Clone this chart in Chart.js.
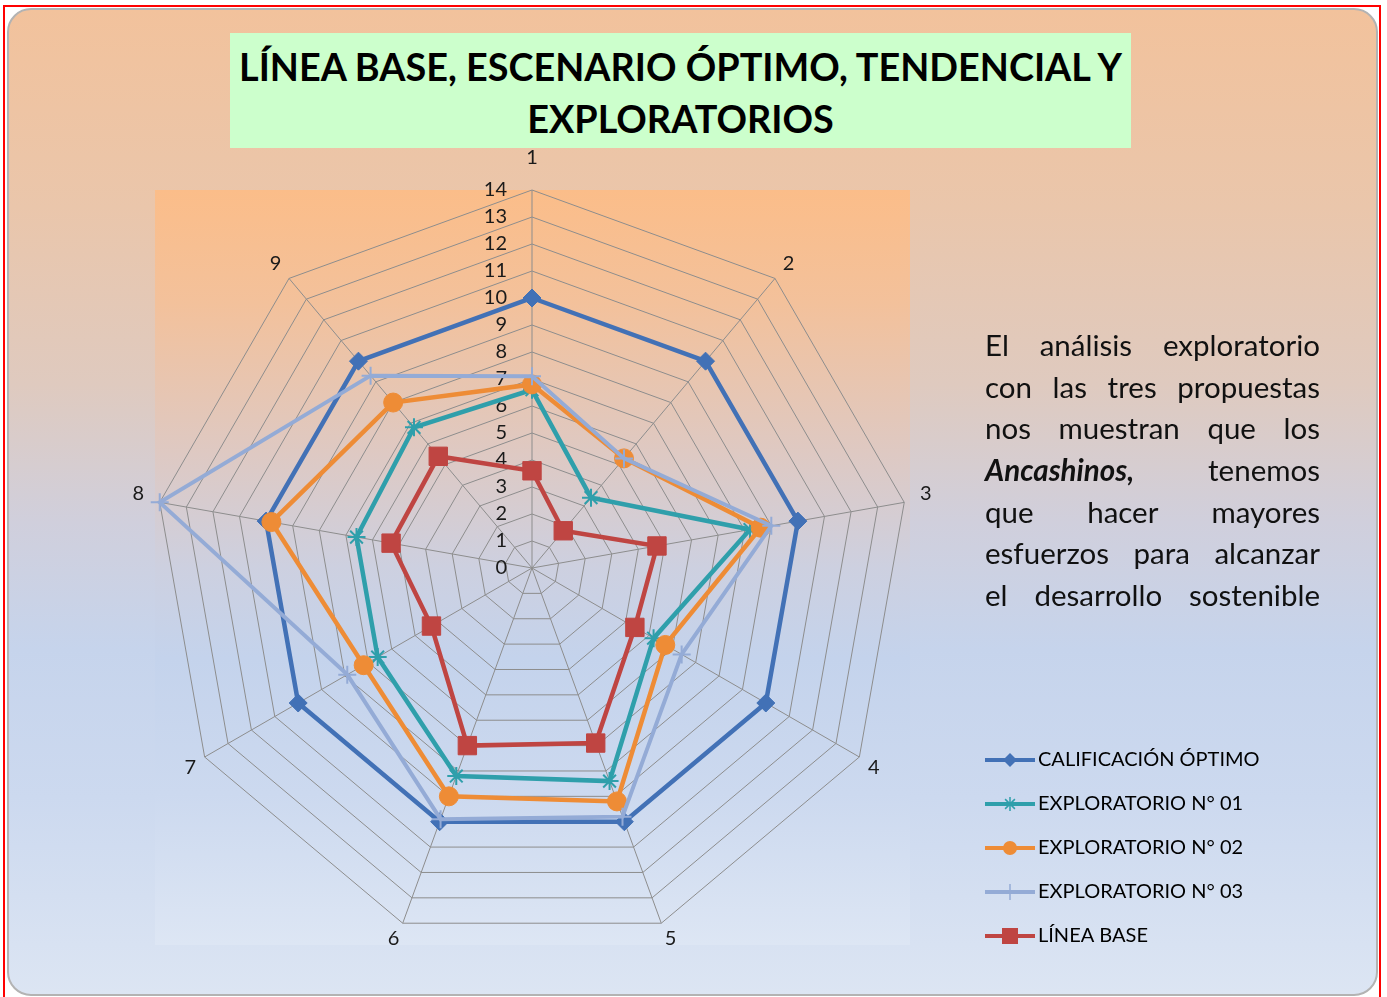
<!DOCTYPE html>
<html>
<head>
<meta charset="utf-8">
<script src="https://cdn.jsdelivr.net/npm/chart.js@4.4.1/dist/chart.umd.min.js"></script>
<style>
html,body{margin:0;padding:0;width:1387px;height:997px;overflow:hidden;background:#ffffff;font-family:Lato,sans-serif;}
#frame{position:absolute;left:3px;top:5px;width:1378px;height:1010px;border:2px solid #ff0000;box-sizing:border-box;}
#panel{position:absolute;left:7px;top:8px;width:1371px;height:988px;border:2px solid #b3b3b3;border-radius:24px;box-sizing:border-box;
  background:linear-gradient(180deg,#f2c29c 0%,#eac6ab 20%,#dfcabf 38%,#d0cfdc 52%,#c6d4ec 65%,#ccd9ef 80%,#dce5f3 100%);}
#plotbg{position:absolute;left:155px;top:190px;width:755px;height:755px;
  background:linear-gradient(180deg,#fbbd89 0%,#f3c19b 15%,#dec9c3 35%,#cdd0e0 50%,#c4d3ec 62%,#ccd9ef 80%,#dde6f4 100%);}
#title{position:absolute;left:230px;top:33px;width:901px;height:115px;background:#ccffcc;}
.tl{position:absolute;left:0;width:901px;height:52px;line-height:52px;text-align:center;font-weight:bold;font-size:38px;font-family:Lato,sans-serif;color:#000;white-space:nowrap;transform-origin:50% 50%;}
#c{position:absolute;left:0;top:0;}
#note{position:absolute;left:985px;top:324px;width:335px;font-size:29.5px;font-family:Lato,sans-serif;color:#111;}
#note div{height:41.67px;line-height:41.67px;text-align:justify;text-align-last:justify;}
</style>
</head>
<body>
<div id="frame"></div>
<div id="panel"></div>
<div id="plotbg"></div>
<canvas id="c" width="1387" height="997"></canvas>
<div id="title">
  <div class="tl" id="t1" style="top:7px">LÍNEA BASE, ESCENARIO ÓPTIMO, TENDENCIAL Y</div>
  <div class="tl" id="t2" style="top:59px">EXPLORATORIOS</div>
</div>
<div id="note">
  <div>El análisis exploratorio</div>
  <div>con las tres propuestas</div>
  <div>nos muestran que los</div>
  <div><b><i>Ancashinos,</i></b> tenemos</div>
  <div>que hacer mayores</div>
  <div>esfuerzos para alcanzar</div>
  <div>el desarrollo sostenible</div>
</div>
<script>
// ---- data ----
const categories = ['1','2','3','4','5','6','7','8','9'];
const seriesNames = ['CALIFICACIÓN ÓPTIMO','EXPLORATORIO N° 01','EXPLORATORIO N° 02','EXPLORATORIO N° 03','LÍNEA BASE'];
const optimo     = [10, 10, 10, 10, 10, 10, 10, 10, 10];
const explor01   = [6.6, 3.4, 8.2, 5.2, 8.4, 8.2, 6.6, 6.6, 6.8];
const explor02   = [6.8, 5.3, 8.6, 5.7, 9.2, 9.0, 7.2, 9.8, 8.0];
const explor03   = [7.1, 5.3, 9.0, 6.4, 9.8, 9.9, 7.9, 14, 9.3];
const lineaBase  = [3.6, 1.8, 4.7, 4.4, 6.9, 7.0, 4.3, 5.3, 5.4];
const axisMin = 0, axisMax = 14, axisStep = 1;

// ---- styles ----
const colors = ['#4271b6','#2f9fab','#ee8c36','#94abd6','#bf4542'];
const pStyles = ['rectRot','star','circle','cross','rect'];
const pRadius = [9, 9, 9.5, 9, 13];
const pBorder = [1, 2, 1, 2, 1];
const lWidth = [4.5, 4.5, 4.5, 4, 4.5];
const drawOrder = [5, 4, 3, 2, 1];
const labelPad = [26, 12, 16, 10, 10, 10, 10, 16, 12];

// title fit
(function(){
  const m = document.createElement('canvas').getContext('2d');
  m.font = 'bold 38px Lato';
  const w = m.measureText(document.getElementById('t1').textContent).width;
  const s = 888 / w;
  document.getElementById('t1').style.transform = 'scaleX(' + s + ')';
  document.getElementById('t2').style.transform = 'scaleX(' + s + ')';
})();

// legend swatch: line + marker (image drawn centered in the legend box)
const SW = 79, SH = 20, lineStart = 29;
function makeSwatch(color, style) {
  const c = document.createElement('canvas');
  c.width = SW; c.height = SH;
  const g = c.getContext('2d');
  g.strokeStyle = color; g.fillStyle = color; g.lineWidth = 4;
  g.beginPath(); g.moveTo(lineStart, 10); g.lineTo(SW, 10); g.stroke();
  g.lineWidth = 1.5;
  const x = (lineStart + SW) / 2, y = 10;
  if (style === 'rectRot') { const r = 7; g.beginPath(); g.moveTo(x, y - r); g.lineTo(x + r, y); g.lineTo(x, y + r); g.lineTo(x - r, y); g.closePath(); g.fill(); }
  else if (style === 'circle') { g.beginPath(); g.arc(x, y, 7, 0, Math.PI * 2); g.fill(); }
  else if (style === 'rect') { g.fillRect(x - 8, y - 8, 16, 16); }
  else if (style === 'star') { const r = 7; g.beginPath(); g.moveTo(x, y - r); g.lineTo(x, y + r); g.moveTo(x - r * 0.7, y - r * 0.7); g.lineTo(x + r * 0.7, y + r * 0.7); g.moveTo(x - r * 0.7, y + r * 0.7); g.lineTo(x + r * 0.7, y - r * 0.7); g.stroke(); }
  else if (style === 'cross') { g.beginPath(); g.moveTo(x, y - 8); g.lineTo(x, y + 8); g.stroke(); }
  return c;
}
const swatches = colors.map((c, i) => makeSwatch(c, pStyles[i]));

// legend geometry
const legendFontSize = 20, legendPad = 24, legendBoxW = 65;
const meas = document.createElement('canvas').getContext('2d');
meas.font = 'normal ' + legendFontSize + 'px Lato';
const maxTW = Math.max(...seriesNames.map(t => meas.measureText(t).width));
const legendWidth = legendPad + legendBoxW + legendFontSize / 2 + maxTW + 10;
const legendLeft = 939;
const padRight = 1387 - legendLeft - legendWidth;

const seriesValues = [optimo, explor01, explor02, explor03, lineaBase];
const datasets = seriesValues.map((vals, i) => ({
  label: seriesNames[i],
  data: vals,
  borderColor: colors[i],
  backgroundColor: colors[i],
  borderWidth: lWidth[i],
  fill: false,
  pointStyle: pStyles[i],
  pointRadius: pRadius[i],
  pointHoverRadius: pRadius[i],
  pointBackgroundColor: colors[i],
  pointBorderColor: colors[i],
  pointBorderWidth: pBorder[i],
  order: drawOrder[i],
  tension: 0
}));

const tickLabelPlugin = {
  id: 'tickLabels',
  beforeDatasetsDraw(chart) {
    const s = chart.scales.r, ctx = chart.ctx;
    ctx.save();
    ctx.font = '20px Lato';
    ctx.fillStyle = '#1a1a1a';
    ctx.textAlign = 'right';
    ctx.textBaseline = 'middle';
    s.ticks.forEach(t => {
      const d = s.getDistanceFromCenterForValue(t.value);
      ctx.fillText(String(t.value), s.xCenter - 25, s.yCenter - d);
    });
    ctx.restore();
  }
};

new Chart(document.getElementById('c'), {
  type: 'radar',
  data: { labels: categories, datasets: datasets },
  options: {
    responsive: false,
    animation: false,
    devicePixelRatio: 1,
    layout: { padding: { left: 127, right: padRight, top: 138, bottom: 27 } },
    elements: { line: { tension: 0 } },
    scales: {
      r: {
        min: axisMin, max: axisMax,
        ticks: { stepSize: axisStep, display: false },
        grid: { color: '#8d8d8d', lineWidth: 1, circular: false },
        angleLines: { color: '#8d8d8d', lineWidth: 1 },
        pointLabels: {
          font: { family: 'Lato', size: 20, lineHeight: 0.6 },
          color: '#1a1a1a',
          padding: (ctx) => labelPad[ctx.index]
        }
      }
    },
    plugins: {
      tooltip: { enabled: false },
      legend: {
        position: 'right',
        align: 'end',
        labels: {
          usePointStyle: true,
          pointStyleWidth: legendBoxW,
          padding: legendPad,
          color: '#1a1a1a',
          font: { family: 'Lato', size: legendFontSize },
          generateLabels: (chart) => chart.data.datasets.map((ds, i) => ({
            text: ds.label,
            pointStyle: swatches[i],
            fillStyle: ds.borderColor,
            strokeStyle: ds.borderColor,
            lineWidth: 0,
            hidden: !chart.isDatasetVisible(i),
            datasetIndex: i
          }))
        }
      }
    }
  },
  plugins: [tickLabelPlugin]
});
</script>
</body>
</html>
